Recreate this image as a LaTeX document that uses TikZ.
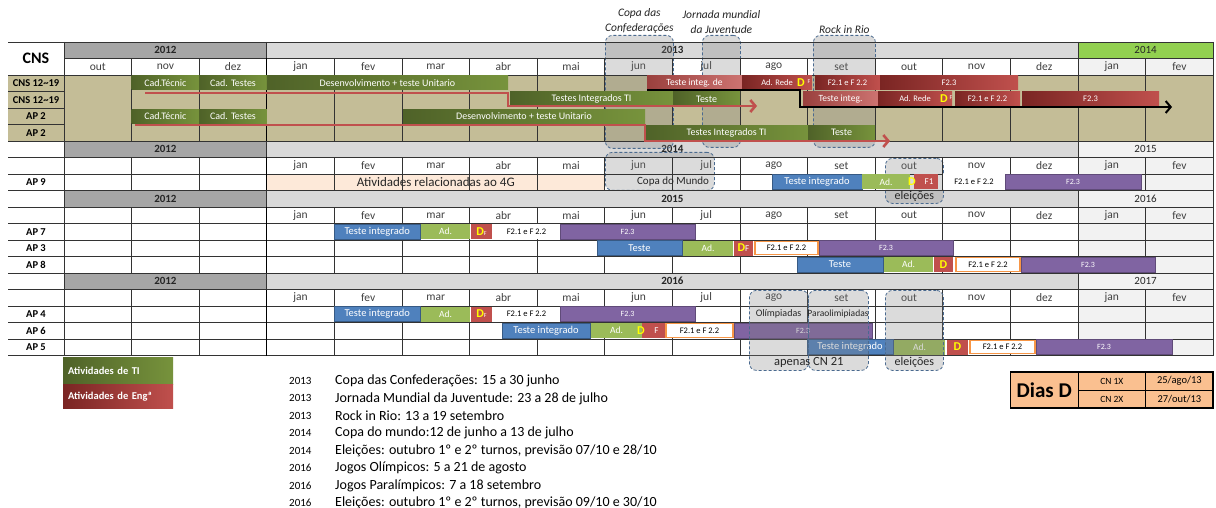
\documentclass[tikz,border=0pt]{standalone}
\usepackage{fontspec}
\setmainfont{Carlito}
\usetikzlibrary{positioning,arrows.meta}
\definecolor{tanbg}{HTML}{C4BD97}
\definecolor{yrdark}{HTML}{A6A6A6}
\definecolor{yrmid}{HTML}{D9D9D9}
\definecolor{yrlight}{HTML}{F2F2F2}
\definecolor{yrgreen}{HTML}{92D050}
\definecolor{tidark}{HTML}{4F6228}
\definecolor{tilight}{HTML}{77933C}
\definecolor{engdark}{HTML}{7A2523}
\definecolor{englight}{HTML}{C0504D}
\definecolor{tstblue}{HTML}{4F81BD}
\definecolor{adgreen}{HTML}{9BBB59}
\definecolor{f23purple}{HTML}{8064A2}
\definecolor{fborder}{HTML}{F79646}
\definecolor{peach}{HTML}{FDE9D9}
\definecolor{dyel}{HTML}{FFFF00}
\definecolor{evline}{HTML}{4A6A8F}
\definecolor{diasbg}{HTML}{FAC090}
\definecolor{txtgray}{HTML}{404040}
\newcommand{\dd}{\textcolor{dyel}{\fontsize{12}{12}\selectfont\bfseries D}}
\newcommand{\smallF}{{\fontsize{6}{6}\selectfont F}}
\tikzset{
  bar/.style={inner sep=0pt, minimum height=15pt, text=white},
  tibar/.style={bar, minimum height=14pt, left color=tidark, right color=tilight, font=\fontsize{10}{10}\selectfont},
  engbar/.style={bar, minimum height=14pt, left color=engdark, right color=englight, font=\fontsize{8.5}{8.5}\selectfont},
  engfade/.style={engbar, left color=englight!80!black, right color=englight!80!white, font=\fontsize{9.5}{9.5}\selectfont},
  tstbar/.style={bar, fill=tstblue, draw=tstblue!70!black, line width=0.6pt, font=\fontsize{10.5}{10.5}\selectfont},
  adbar/.style={bar, fill=adgreen, font=\fontsize{9.5}{9.5}\selectfont},
  dbar/.style={bar, fill=englight, font=\fontsize{9}{9}\selectfont},
  f23bar/.style={bar, fill=f23purple, draw=f23purple!75!black, line width=0.6pt, font=\fontsize{8}{8}\selectfont},
  fbar/.style={bar, fill=white, text=black, draw=fborder, line width=1.3pt, minimum height=13.5pt, font=\fontsize{8.5}{8.5}\selectfont},
  fplain/.style={bar, fill=white, text=black, font=\fontsize{8.5}{8.5}\selectfont},
  event/.style={draw=evline, dash pattern=on 3pt off 2pt, rounded corners=7pt, fill=black!50, fill opacity=0.28, line width=0.8pt, inner sep=0pt},
  evtitle/.style={font=\fontsize{11.5}{15}\selectfont\itshape, align=center, text=black!85, inner sep=1pt},
  evtxt/.style={font=\fontsize{11}{11}\selectfont, text=black!85, inner sep=0pt},
  mon/.style={font=\fontsize{11.5}{11.5}\selectfont, text=txtgray},
  yrlbl/.style={font=\fontsize{11}{11}\selectfont, text=black!85},
  rowlbl/.style={font=\fontsize{10.5}{10.5}\selectfont\bfseries},
  gline/.style={draw=black!80, line width=0.7pt},
  tipath/.style={draw=englight, line width=2.6pt, -{Straight Barb[length=5pt,width=12pt]}},
  engpath/.style={draw=black, line width=2pt, -{Straight Barb[length=5pt,width=12pt]}},
  dmark/.style={inner sep=0pt, font=\fontsize{12}{12}\selectfont\bfseries, text=dyel},
}
\begin{document}
\begin{tikzpicture}[x=1pt,y=-1pt]
\useasboundingbox (0,0) rectangle (1216,508);
\fill[white] (0,0) rectangle (1216,508);

% year and month rows of the four blocks
\foreach \k/\ya/\yb/\lc [count=\bi] in {0/2013/2014/yrgreen, 6/2014/2015/yrlight, 9/2015/2016/yrlight, 14/2016/2017/yrlight}{
  \pgfmathsetmacro\ty{42+16.5*\k}
  \pgfmathsetmacro\my{\ty+16.5}
  \pgfmathsetmacro\by{\ty+33}
  \fill[yrdark] (64,\ty) rectangle (266.8,\my);
  \fill[yrmid] (266.8,\ty) rectangle (1078,\my);
  \fill[\lc] (1078,\ty) rectangle (1213.2,\my);
  \node[yrlbl,font=\fontsize{11}{11}\selectfont\bfseries] (yo\bi) at (165.4,{\ty+8.25}) {2012};
  \node[yrlbl,font=\fontsize{11}{11}\selectfont\bfseries] (ym\bi) at (672.4,{\ty+8.25}) {\ya};
  \node[yrlbl] (yn\bi) at (1145.6,{\ty+8.25}) {\yb};
  \fill[yrlight] (1078,\my) rectangle (1213.2,\by);
  \foreach \m [count=\j from 0] in {out,nov,dez,jan,fev,mar,abr,mai,jun,jul,ago,set,out,nov,dez,jan,fev}{
    \pgfmathsetmacro\mx{64+67.6*\j+33.8}
    \ifnum\bi=1 \node[mon] (m\bi-\j) at (\mx,{\my+8.25}) {\m};
    \else \ifnum\j>2 \node[mon] (m\bi-\j) at (\mx,{\my+8.25}) {\m}; \fi \fi
  }
}

% data rows
\fill[tanbg] (8,75) rectangle (1213.2,141);
\foreach \k in {8,11,12,13,16,17,18}{
  \pgfmathsetmacro\ty{42+16.5*\k}
  \fill[yrlight] (1078,\ty) rectangle (1213.2,{\ty+16.5});
}
\fill[peach] (266.8,174) rectangle (604.8,190.5);
\node[evtxt,font=\fontsize{13}{13}\selectfont] (quatroG) at (435.8,182.2) {Atividades relacionadas ao 4G};

% events over the calendar
\foreach \nm/\xa/\xb/\ya/\yb in {copaC/605/673/35/148, jmj/702/740/35/147, rock/813/875/35/147, copaM/605/714/152/190, eleA/885/943/158/203}{
  \pgfmathsetmacro\bw{\xb-\xa}
  \pgfmathsetmacro\bh{\yb-\ya}
  \node[event, minimum width=\bw pt, minimum height=\bh pt, anchor=north west] (\nm) at (\xa,\ya) {};
}
\node[evtitle, above=0pt of copaC] (copaCt) {Copa das\\Confederações};
\node[evtitle, above=0pt of jmj] (jmjt) {Jornada mundial\\da Juventude};
\node[evtitle, above=0pt of rock] (rockt) {Rock in Rio};

% grid
\foreach \b in {0,...,19}{
  \pgfmathsetmacro\hy{42+16.5*\b}
  \ifnum\b>2 \ifnum\b<6 \draw[gline] (8,\hy) -- (64,\hy); \else \draw[gline] (8,\hy) -- (1213.2,\hy); \fi
  \else \ifnum\b=1 \draw[gline] (64,\hy) -- (1213.2,\hy); \else \draw[gline] (8,\hy) -- (1213.2,\hy); \fi \fi
}
\foreach \k/\e in {0/6, 6/9, 9/14, 14/19}{
  \pgfmathsetmacro\ty{42+16.5*\k}
  \pgfmathsetmacro\my{\ty+16.5}
  \pgfmathsetmacro\ey{42+16.5*\e}
  \foreach \xx in {64,266.8,1078,1213.2} \draw[gline] (\xx,\ty) -- (\xx,\my);
  \foreach \j in {0,...,17}{
    \pgfmathsetmacro\xx{64+67.6*\j}
    \draw[gline] (\xx,\my) -- (\xx,\ey);
  }
  \draw[gline,line width=1.2pt,draw=black] (266.8,\my) -- (266.8,\ey);
}

% row labels
\node[font=\fontsize{16}{16}\selectfont\bfseries] (cns) at (36,58.5) {CNS};
\foreach \k/\lb in {2/CNS 12\textasciitilde19, 3/CNS 12\textasciitilde19, 4/AP 2, 5/AP 2, 8/AP 9, 11/AP 7, 12/AP 3, 13/AP 8, 16/AP 4, 17/AP 6, 18/AP 5}
  \node[rowlbl] (lbl\k) at (36,{50.25+16.5*\k}) {\lb};

% bars
\foreach \nm/\xa/\xb/\yc/\st/\tx in {
  cadA/131.6/199.2/83/tibar/Cad.Técnic,
  cadB/199.2/266.8/83/tibar/Cad. Testes,
  devA/266.8/508/83/tibar/Desenvolvimento + teste Unitario,
  titA/510/673/99/tibar/Testes Integrados TI,
  tstA/673/740/99/tibar/Teste,
  cadC/131.6/199.2/116.5/tibar/Cad.Técnic,
  cadD/199.2/266.8/116.5/tibar/Cad. Testes,
  devB/403/645/116.5/tibar/Desenvolvimento + teste Unitario,
  titB/645/808/132.5/tibar/Testes Integrados TI,
  tstB/808/875/132.5/tibar/Teste,
  tiA/647/742/83/engfade/Teste integ. de,
  adA/742/812/83/engbar/Ad. Rede\hspace{14pt},
  fA/815/880/83/engbar/F2.1 e F 2.2,
  ftA/880/1018/83/engbar/F2.3,
  tiB/803/878/99/engfade/Teste integ.,
  adB/878/952/99/engbar/Ad. Rede\hspace{14pt},
  fB/955/1020/99/engbar/F2.1 e F 2.2,
  ftB/1022/1159/99/engbar/F2.3,
  tiC/772/862/182/tstbar/Teste integrado,
  adC/862/910/182/adbar/Ad.,
  f1C/914/938/182/dbar/\hspace{6pt}F1,
  fpC/943/1005/182/fplain/F2.1 e F 2.2,
  ftC/1005/1141/182/f23bar/F2.3,
  tiD/334.4/420/231.5/tstbar/Teste integrado,
  adD/421/470/231.5/adbar/Ad.,
  dD/471/492/231.5/dbar/\dd\smallF,
  fpD/493/560/231.5/fplain/F2.1 e F 2.2,
  ftD/560/695/231.5/f23bar/F2.3,
  tiE/597/682/248/tstbar/Teste,
  adE/683/733/248/adbar/Ad.,
  dE/734/753/248/dbar/\dd F,
  fE/755/818/248/fbar/F2.1 e F 2.2,
  ftE/819/953/248/f23bar/F2.3,
  tiF/797/883/264.5/tstbar/Teste,
  adF/884/933/264.5/adbar/Ad.,
  dF/934/953/264.5/dbar/\dd,
  fF/956/1020/264.5/fbar/F2.1 e F 2.2,
  ftF/1021/1155/264.5/f23bar/F2.3,
  tiG/334.4/420/314/tstbar/Teste integrado,
  adG/421/470/314/adbar/Ad.,
  dG/471/492/314/dbar/\dd\smallF,
  fpG/493/560/314/fplain/F2.1 e F 2.2,
  ftG/560/695/314/f23bar/F2.3,
  tiH/502/590/330.5/tstbar/Teste integrado,
  adH/591/642/330.5/adbar/Ad.,
  dH/642/665/330.5/dbar/\hspace{6pt}F,
  fH/666/733/330.5/fbar/F2.1 e F 2.2,
  ftH/734/872/330.5/f23bar/F2.3,
  tiI/807/893/347/tstbar/Teste integrado,
  adI/894/945/347/adbar/Ad.,
  dI/947/968/347/dbar/\dd,
  fI/970/1035/347/fbar/F2.1 e F 2.2,
  ftI/1036/1172/347/f23bar/F2.3}{
  \pgfmathsetmacro\bw{\xb-\xa}
  \pgfmathsetmacro\bx{(\xa+\xb)/2}
  \node[\st, minimum width=\bw pt] (\nm) at (\bx,\yc) {\tx};
}
% D days
\node[dmark] (dA) at (801,83) {D};
\node[inner sep=0pt, text=white, font=\fontsize{6}{6}\selectfont] (fxA) at (809,82) {F};
\node[dmark] (dB) at (944,99) {D};
\node[inner sep=0pt, text=white, font=\fontsize{6}{6}\selectfont] (fxB) at (951,98) {F};
\node[dmark] (dC) at (912,182) {D};
\node[dmark] (dH) at (641,330.5) {D};

% paths of the test phases
\coordinate (r1s) at (145,93);
\coordinate (r1b) at (508,106);
\coordinate (r1e) at (757,106);
\draw[tipath] (r1s) -| (r1b) -- (r1e);
\coordinate (r2s) at (135,125);
\coordinate (r2b) at (645,141);
\coordinate (r2e) at (890,141);
\draw[tipath] (r2s) -| (r2b) -- (r2e);
\coordinate (k1s) at (647,90);
\coordinate (k1b) at (800,107);
\coordinate (k1e) at (1172,107);
\draw[engpath] (k1s) -| (k1b) -- (k1e);

% events 2016, over the bars
\foreach \nm/\xa/\xb/\ya/\yb in {olim/749/808/290/370, para/808/868/290/370, eleB/885/943/290/370}{
  \pgfmathsetmacro\bw{\xb-\xa}
  \pgfmathsetmacro\bh{\yb-\ya}
  \node[event, minimum width=\bw pt, minimum height=\bh pt, anchor=north west] (\nm) at (\xa,\ya) {};
}
\node[evtxt] (copaMt) at (673,182) {Copa do Mundo};
\node[evtxt, font=\fontsize{12}{12}\selectfont, above=2pt of eleA.south] (eleAt) {eleições};
\node[evtxt, font=\fontsize{10}{10}\selectfont] (olimt) at (778.5,314) {Olímpiadas};
\node[evtxt, font=\fontsize{9.5}{9.5}\selectfont] (parat) at (838,314) {Paraolimipiadas};
\node[evtxt, font=\fontsize{12.5}{12.5}\selectfont, above=3pt of olim.south east] (apenas) {apenas CN 21};
\node[evtxt, font=\fontsize{12}{12}\selectfont, above=3pt of eleB.south] (eleBt) {eleições};

% legend
\node[tibar, minimum width=110pt, minimum height=27pt, anchor=north west, text width=100pt, align=left, font=\fontsize{10.5}{10.5}\selectfont\bfseries] (legTI) at (63,357) {Atividades de TI};
\node[engbar, minimum width=110pt, minimum height=24pt, below=0pt of legTI, text width=100pt, align=left, font=\fontsize{10.5}{10.5}\selectfont\bfseries] (legEng) {Atividades de Engª};

% list of events
\foreach \yr/\ev [count=\i] in {2013/{Copa das Confederações: 15 a 30 junho},
  2013/{Jornada Mundial da Juventude: 23 a 28 de julho},
  2013/{Rock in Rio:  13 a 19 setembro},
  2014/{Copa do mundo:12 de junho a 13 de julho},
  2014/{Eleições: outubro 1º e 2º turnos, previsão 07/10 e 28/10},
  2016/{Jogos Olímpicos: 5 a 21 de agosto},
  2016/{Jogos Paralímpicos: 7 a 18 setembro},
  2016/{Eleições: outubro 1º e 2º turnos, previsão 09/10 e 30/10}}{
  \pgfmathsetmacro\ly{381+17.4*(\i-1)}
  \node[anchor=west, inner sep=0pt, font=\fontsize{11}{11}\selectfont] (yr\i) at (289,\ly) {\yr};
  \node[anchor=west, inner sep=0pt, font=\fontsize{14}{14}\selectfont] (ev\i) at (335,\ly) {\ev};
}

% Dias D
\draw[fill=diasbg, line width=1.5pt] (1010.4,372) rectangle (1213.2,408);
\draw[line width=0.5pt] (1078,372) -- (1078,408) (1145.6,372) -- (1145.6,408) (1078,390) -- (1213.2,390);
\node[font=\fontsize{21}{21}\selectfont\bfseries] (dias) at (1044.2,390) {Dias D};
\node[font=\fontsize{9.5}{9.5}\selectfont] (cn1) at (1111.8,381) {CN 1X};
\node[font=\fontsize{10.5}{10.5}\selectfont] (dt1) at (1179.4,381) {25/ago/13};
\node[font=\fontsize{9.5}{9.5}\selectfont] (cn2) at (1111.8,399) {CN 2X};
\node[font=\fontsize{10.5}{10.5}\selectfont] (dt2) at (1179.4,399) {27/out/13};
\end{tikzpicture}
\end{document}
